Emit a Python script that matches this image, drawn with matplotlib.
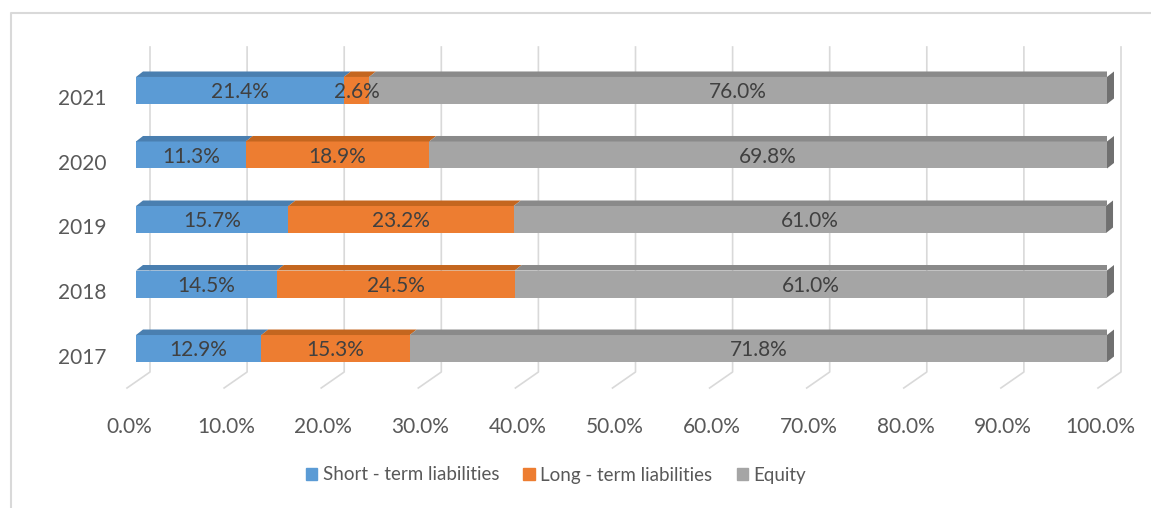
import matplotlib
matplotlib.use('Agg')
import matplotlib.pyplot as plt
import matplotlib.transforms as mtransforms
from matplotlib.patches import Polygon
from matplotlib.lines import Line2D

plt.rcParams['font.family'] = ['Lato', 'DejaVu Sans']

years = ['2017', '2018', '2019', '2020', '2021']
short_term = [12.9, 14.5, 15.7, 11.3, 21.4]
long_term = [15.3, 24.5, 23.2, 18.9, 2.6]
equity = [71.8, 61.0, 61.0, 69.8, 76.0]
series_names = ['Short - term liabilities', 'Long - term liabilities', 'Equity']
x_ticks = [0, 10, 20, 30, 40, 50, 60, 70, 80, 90, 100]

front_colors = ['#5B9BD5', '#ED7D31', '#A5A5A5']
top_colors = ['#4A7FB0', '#C4661F', '#8A8A8A']
side_color = '#707070'
grid_color = '#D9D9D9'

W, H = 1151, 508
fig = plt.figure(figsize=(W / 100, H / 100), dpi=100)
ax = fig.add_axes([136 / W, (H - 388) / H, 971 / W, 341 / H])

ax.set_xlim(0, 100)
ax.set_ylim(-0.612, 4.674)

px_x = 100 / 971     # data units per pixel, x
px_y = 1 / 64.5      # data units per pixel, y
bar_h = 27 * px_y
dx, dy = 7 * px_x, 5.5 * px_y

# back wall gridlines + floor lines
for v in x_ticks:
    gx = v + 14 * px_x
    ax.plot([gx, gx, gx - 23 * px_x], [4.674, -0.364, -0.612],
            color=grid_color, lw=1.2, zorder=0, clip_on=False)

pos = list(range(len(years)))
left = [0] * len(years)
for vals, fc, tc in zip([short_term, long_term, equity], front_colors, top_colors):
    ax.barh(pos, vals, left=left, height=bar_h, color=fc, zorder=2)
    for y, l, v in zip(pos, left, vals):
        top = y + bar_h / 2
        ax.add_patch(Polygon([(l, top), (l + v, top), (l + v + dx, top + dy), (l + dx, top + dy)],
                             closed=True, color=tc, lw=0, zorder=3))
        ax.text(l + v / 2, y - 0.03, f'{v:.1f}%', ha='center', va='center',
                fontsize=15, color='#404040', zorder=4)
    left = [a + b for a, b in zip(left, vals)]

# right side face of each bar
for y, tot in zip(pos, left):
    b, t = y - bar_h / 2, y + bar_h / 2
    ax.add_patch(Polygon([(tot, b), (tot, t), (tot + dx, t + dy), (tot + dx, b + dy)],
                         closed=True, color=side_color, lw=0, zorder=3, clip_on=False))

ax.set_yticks(pos)
ax.set_yticklabels(years)
ax.set_xticks(x_ticks)
ax.set_xticklabels([f'{v:.1f}%' for v in x_ticks])
ax.tick_params(axis='both', length=0, labelsize=15, labelcolor='#595959')
ax.tick_params(axis='x', pad=21)
ax.tick_params(axis='y', pad=21)
for lab in ax.get_yticklabels():
    lab.set_transform(lab.get_transform() + mtransforms.ScaledTranslation(0, -0.07, fig.dpi_scale_trans))
for lab in ax.get_xticklabels():
    lab.set_transform(lab.get_transform() + mtransforms.ScaledTranslation(-0.07, 0, fig.dpi_scale_trans))
for s in ax.spines.values():
    s.set_visible(False)
ax.set_facecolor('none')

handles = [plt.Rectangle((0, 0), 1, 1, color=c) for c in front_colors]
fig.legend(handles, series_names, loc='center', bbox_to_anchor=(556 / W, (H - 475) / H),
           ncol=3, frameon=False, fontsize=13.5, handlelength=0.6, handleheight=0.6,
           handletextpad=0.3, columnspacing=1.3, labelcolor='#595959')

# chart border
fig.add_artist(Line2D([11 / W, 11 / W, 1], [0, 1 - 13 / H, 1 - 13 / H],
                      transform=fig.transFigure, color=grid_color, lw=1.5))

fig.savefig('out.png', dpi=100)
